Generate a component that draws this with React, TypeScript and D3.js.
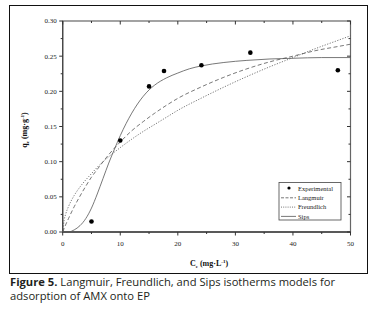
import { useEffect, useRef } from 'react';
import * as d3 from 'd3';

// experimental points (Ce, qe)
const expCe = [5, 10, 15, 17.6, 24.1, 32.6, 47.8];
const expQe = [0.015, 0.13, 0.207, 0.229, 0.237, 0.255, 0.23];

// model curves
const langCe = [0, 0.5, 1, 2, 3, 4, 5, 6, 8, 10, 12, 14, 16, 18, 20, 24, 28, 32, 36, 40, 44, 48, 50];
const langQe = [0, 0.010, 0.019, 0.036, 0.051, 0.065, 0.078, 0.089, 0.110, 0.128, 0.144, 0.157, 0.169, 0.180, 0.190, 0.206, 0.220, 0.232, 0.242, 0.250, 0.258, 0.264, 0.267];

const freuCe = [0, 0.25, 0.5, 1, 2, 3, 4, 5, 6, 8, 10, 12, 14, 16, 18, 20, 24, 28, 32, 36, 40, 44, 48, 50];
const freuQe = [0, 0.017, 0.025, 0.036, 0.052, 0.064, 0.074, 0.083, 0.092, 0.107, 0.120, 0.132, 0.143, 0.153, 0.163, 0.173, 0.190, 0.206, 0.221, 0.235, 0.248, 0.261, 0.273, 0.279];

const sipsCe = [0, 1, 1.5, 2, 3, 4, 5, 6, 7, 8, 9, 10, 11, 12, 13, 14, 15, 16, 18, 20, 22, 24, 28, 32, 36, 40, 45, 50];
const sipsQe = [0, 0, 0.001, 0.003, 0.009, 0.019, 0.034, 0.054, 0.076, 0.098, 0.118, 0.137, 0.154, 0.169, 0.182, 0.193, 0.202, 0.209, 0.219, 0.226, 0.232, 0.236, 0.241, 0.244, 0.246, 0.247, 0.248, 0.248];

const xTicks = [0, 10, 20, 30, 40, 50];
const yTicks = [0, 0.05, 0.1, 0.15, 0.2, 0.25, 0.3];

const legendNames = ['Experimental', 'Langmuir', 'Freundlich', 'Sips'];

const serif = '"Liberation Serif", "DejaVu Serif", serif';
const sans = '"Open Sans", "Noto Sans", sans-serif';

function App() {
  const ref = useRef<SVGSVGElement>(null);

  useEffect(() => {
    const svg = d3.select(ref.current);
    svg.selectAll('*').remove();

    const left = 62.7, right = 350.5, top = 21, bottom = 232;
    const x = d3.scaleLinear().domain([0, 50]).range([left, right]);
    const y = d3.scaleLinear().domain([0, 0.3]).range([bottom, top]);

    svg.append('rect').attr('width', 372).attr('height', 309).attr('fill', '#fff');

    // outer frame
    svg.append('rect')
      .attr('x', 9.5).attr('y', 5.5).attr('width', 358).attr('height', 268)
      .attr('fill', 'none').attr('stroke', '#111').attr('stroke-width', 1);

    const g = svg.append('g');
    const axisCol = '#666';

    // plot box
    g.append('rect')
      .attr('x', left).attr('y', top).attr('width', right - left).attr('height', bottom - top)
      .attr('fill', 'none').attr('stroke', axisCol).attr('stroke-width', 1.2);
    g.append('line').attr('x1', left).attr('x2', right).attr('y1', bottom).attr('y2', bottom)
      .attr('stroke', '#111').attr('stroke-width', 1.2);
    g.append('line').attr('x1', left).attr('x2', left).attr('y1', top).attr('y2', bottom)
      .attr('stroke', '#444').attr('stroke-width', 1.2);

    // ticks
    const xMinor = d3.range(5, 50, 10);
    const yMinor = d3.range(0.025, 0.3, 0.05);
    const tickCol = '#333';
    xTicks.forEach(v => {
      g.append('line').attr('x1', x(v)).attr('x2', x(v)).attr('y1', bottom).attr('y2', bottom + 3.5).attr('stroke', tickCol);
      g.append('line').attr('x1', x(v)).attr('x2', x(v)).attr('y1', top).attr('y2', top + 3.5).attr('stroke', tickCol);
      g.append('text').attr('x', x(v)).attr('y', bottom + 14).attr('text-anchor', 'middle')
        .attr('font-family', serif).attr('font-size', 7).attr('fill', '#222').text(String(v));
    });
    xMinor.forEach(v => {
      g.append('line').attr('x1', x(v)).attr('x2', x(v)).attr('y1', bottom).attr('y2', bottom + 2).attr('stroke', tickCol);
      g.append('line').attr('x1', x(v)).attr('x2', x(v)).attr('y1', top).attr('y2', top + 2).attr('stroke', tickCol);
    });
    yTicks.forEach(v => {
      g.append('line').attr('x1', left - 3.5).attr('x2', left).attr('y1', y(v)).attr('y2', y(v)).attr('stroke', tickCol);
      g.append('line').attr('x1', right - 3.5).attr('x2', right).attr('y1', y(v)).attr('y2', y(v)).attr('stroke', tickCol);
      g.append('text').attr('x', left - 6).attr('y', y(v) + 2.4).attr('text-anchor', 'end')
        .attr('font-family', serif).attr('font-size', 7).attr('fill', '#222').text(v.toFixed(2));
    });
    yMinor.forEach(v => {
      g.append('line').attr('x1', left - 2).attr('x2', left).attr('y1', y(v)).attr('y2', y(v)).attr('stroke', tickCol);
      g.append('line').attr('x1', right - 2).attr('x2', right).attr('y1', y(v)).attr('y2', y(v)).attr('stroke', tickCol);
    });

    // axis titles
    const xt = g.append('text').attr('x', 209).attr('y', 266).attr('text-anchor', 'middle')
      .attr('font-family', serif).attr('font-size', 8).attr('font-weight', 'bold').attr('fill', '#111');
    xt.append('tspan').text('C');
    xt.append('tspan').attr('font-size', 5).attr('dy', 2).text('e');
    xt.append('tspan').attr('dy', -2).text(' (mg\u00B7L');
    xt.append('tspan').attr('font-size', 5).attr('dy', -3).text('-1');
    xt.append('tspan').attr('dy', 3).text(')');

    const yt = g.append('text').attr('transform', 'translate(27,130) rotate(-90)').attr('text-anchor', 'middle')
      .attr('font-family', serif).attr('font-size', 8).attr('font-weight', 'bold').attr('fill', '#111');
    yt.append('tspan').text('q');
    yt.append('tspan').attr('font-size', 5).attr('dy', 2).text('e');
    yt.append('tspan').attr('dy', -2).text(' (mg\u00B7g');
    yt.append('tspan').attr('font-size', 5).attr('dy', -3).text('-1');
    yt.append('tspan').attr('dy', 3).text(')');

    // curves
    const line = d3.line<[number, number]>().x(d => x(d[0])).y(d => y(d[1])).curve(d3.curveMonotoneX);
    const curveCol = '#555';
    const series = [
      { ce: langCe, qe: langQe, dash: '4,2.5' },
      { ce: freuCe, qe: freuQe, dash: '1.2,1.5' },
      { ce: sipsCe, qe: sipsQe, dash: null },
    ];
    series.forEach(s => {
      g.append('path')
        .datum(s.ce.map((c, i) => [c, s.qe[i]] as [number, number]))
        .attr('d', line)
        .attr('fill', 'none').attr('stroke', curveCol).attr('stroke-width', 0.8)
        .attr('stroke-dasharray', s.dash);
    });

    // experimental points
    g.append('g').selectAll('circle')
      .data(expCe.map((c, i) => [c, expQe[i]]))
      .enter()
      .append('circle')
      .attr('cx', d => x(d[0]))
      .attr('cy', d => y(d[1]))
      .attr('r', 2.3)
      .attr('fill', '#000');

    // legend
    const lx = 279, ly = 182.5, lw = 62, lh = 37.5;
    const lg = g.append('g');
    lg.append('rect').attr('x', lx).attr('y', ly).attr('width', lw).attr('height', lh)
      .attr('fill', '#fff').attr('stroke', '#444').attr('stroke-width', 0.8);
    const dashes = [null, '3,1.5', '1,1.2', null];
    legendNames.forEach((name, i) => {
      const ry = ly + 6 + i * 9.3;
      if (i === 0) {
        lg.append('circle').attr('cx', lx + 10).attr('cy', ry - 0.5).attr('r', 1.6).attr('fill', '#000');
      } else {
        lg.append('line').attr('x1', lx + 2).attr('x2', lx + 17).attr('y1', ry).attr('y2', ry)
          .attr('stroke', curveCol).attr('stroke-width', 0.8).attr('stroke-dasharray', dashes[i]);
      }
      lg.append('text').attr('x', lx + 19).attr('y', ry + 2.2)
        .attr('font-family', serif).attr('font-size', 6.5).attr('fill', '#222').text(name);
    });

    // caption
    const cap = svg.append('text').attr('x', 10).attr('y', 285.5)
      .attr('font-family', sans).attr('font-size', 11.2).attr('fill', '#231f20');
    cap.append('tspan').attr('font-weight', 'bold').text('Figure 5.');
    cap.append('tspan').text(' Langmuir, Freundlich, and Sips isotherms models for');
    svg.append('text').attr('x', 10).attr('y', 300)
      .attr('font-family', sans).attr('font-size', 11.2).attr('fill', '#231f20')
      .text('adsorption of AMX onto EP');
  }, []);

  return (
    <div style={{ position: 'absolute', left: 0, top: 0 }}>
      <svg ref={ref} width={372} height={309} style={{ display: 'block' }} />
    </div>
  );
}

export default App;
